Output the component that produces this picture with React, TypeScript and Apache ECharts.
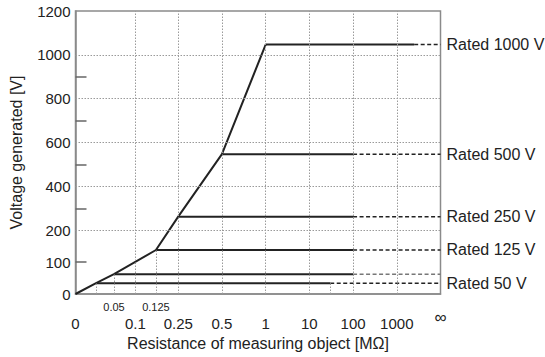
import React, { useEffect, useRef } from 'react';
import * as echarts from 'echarts';

// ---- Y axis (voltage generated, V) ----
const yTickValues = [0, 100, 200, 400, 600, 800, 1000, 1200];
const yGridValues = [200, 400, 600, 800, 1000];
const yMinorTickValues = [100, 300, 500, 700, 900];

// ---- X axis (resistance, MΩ), schematic scale stops ----
const xStopValues = [0, 0.025, 0.05, 0.1, 0.125, 0.25, 0.5, 1, 10, 100, 1000, Infinity];
const xStopSteps = [0, 0.47, 0.88, 1.37, 1.84, 2.35, 3.35, 4.35, 5.35, 6.35, 7.35, 8.35];
const xMainTickValues = [0, 0.1, 0.25, 0.5, 1, 10, 100, 1000];
const xMainTickLabels = ['0', '0.1', '0.25', '0.5', '1', '10', '100', '1000'];
const xSubTickValues = [0.05, 0.125];
const xSubTickLabels = ['0.05', '0.125'];
const xInfLabel = '∞';
const xFullGridValues = [0.1, 0.25, 0.5, 1, 10, 100, 1000];

// ---- Rated lines ----
const ratedLabels = ['Rated 1000 V', 'Rated 500 V', 'Rated 250 V', 'Rated 125 V', '', 'Rated 50 V'];
const generatedV = [1047, 547, 262, 138, 62, 34];
const startR = [1, 0.5, 0.25, 0.125, 0.05, 0.025];
const solidEndR = [2500, 100, 100, 100, 100, 30];

// ---- Rising characteristic ----
const curveR = [0, 0.025, 0.05, 0.125, 0.25, 0.5, 1];
const curveV = [0, 34, 62, 138, 262, 547, 1047];

// ---- Partial drop lines ----
const dropR = [0.025, 0.05, 0.125, 30];
const dropV = [34, 62, 138, 34];

function yPos(v: number): number {
  return v <= 200 ? v * 0.32 : 64 + (v - 200) * 0.22;
}

function xPos(r: number): number {
  const n = xStopValues.length;
  if (r >= xStopValues[n - 1]) return xStopSteps[n - 1];
  for (let i = 0; i < n - 1; i++) {
    const a = xStopValues[i];
    const b = xStopValues[i + 1];
    if (r >= a && r <= b) {
      const sa = xStopSteps[i];
      const sb = xStopSteps[i + 1];
      if (a === 0) return sa + ((r - a) / (b - a)) * (sb - sa);
      const bb = b === Infinity ? 10000 : b;
      return sa + (Math.log10(r / a) / Math.log10(bb / a)) * (sb - sa);
    }
  }
  return 0;
}

function nearestLabel(value: number, positions: number[], labels: string[]): string {
  let best = 0;
  let bestD = Infinity;
  positions.forEach((p, i) => {
    const d = Math.abs(p - value);
    if (d < bestD) {
      bestD = d;
      best = i;
    }
  });
  return bestD < 0.05 ? labels[best] : '';
}

const FONT = 'Liberation Sans, Arial, Helvetica, sans-serif';
const TEXT = '#222';
const AXIS = '#8a8a8a';
const GRID = '#9a9a9a';
const LINE = '#222';

export default function App() {
  const ref = useRef<HTMLDivElement>(null);

  useEffect(() => {
    if (!ref.current) return;
    const chart = echarts.init(ref.current, undefined, { renderer: 'svg' });

    const yLabelPos = yTickValues.map(yPos);
    const yLabelText = yTickValues.map(String);
    const xMainPos = xMainTickValues.map(xPos);
    const xSubPos = xSubTickValues.map(xPos);
    const xMax = xPos(Infinity);
    const yMax = yPos(1200);

    const gridMarkData: any[] = [];
    yGridValues.forEach((v) => gridMarkData.push({ yAxis: yPos(v) }));
    xFullGridValues.forEach((r) => gridMarkData.push({ xAxis: xPos(r) }));
    dropR.forEach((r, i) =>
      gridMarkData.push([{ coord: [xPos(r), 0] }, { coord: [xPos(r), yPos(dropV[i])] }])
    );

    const series: any[] = [
      {
        type: 'line',
        name: 'grid',
        data: [[0, 0]],
        showSymbol: false,
        lineStyle: { opacity: 0 },
        silent: true,
        markLine: {
          silent: true,
          symbol: ['none', 'none'],
          label: { show: false },
          lineStyle: { type: [1.5, 1.5], color: GRID, width: 1 },
          data: gridMarkData,
        },
      },
    ];

    ratedLabels.forEach((label, i) => {
      series.push({
        type: 'line',
        name: 'solid' + i,
        data: [
          [xPos(startR[i]), yPos(generatedV[i])],
          [xPos(solidEndR[i]), yPos(generatedV[i])],
        ],
        showSymbol: false,
        lineStyle: { color: LINE, width: 2 },
        z: 3,
      });
      series.push({
        type: 'line',
        name: 'dashed' + i,
        data: [
          [xPos(solidEndR[i]), yPos(generatedV[i])],
          [xPos(Infinity), yPos(generatedV[i])],
        ],
        showSymbol: false,
        lineStyle: { color: label ? LINE : '#777', width: 1.5, type: [4, 2.5] },
        z: 3,
        endLabel: label
          ? {
              show: true,
              formatter: label,
              fontSize: 16,
              color: TEXT,
              fontFamily: FONT,
              distance: 6,
            }
          : { show: false },
      });
    });

    series.push({
      type: 'line',
      name: 'curve',
      data: curveR.map((r, i) => [xPos(r), yPos(curveV[i])]),
      showSymbol: false,
      lineStyle: { color: LINE, width: 2 },
      z: 4,
    });

    chart.setOption({
      animation: false,
      grid: {
        left: 75.5,
        top: 11,
        right: 104.5,
        bottom: 63,
        show: true,
        borderColor: AXIS,
        borderWidth: 1.5,
        outerBoundsMode: 'none',
      },
      xAxis: [
        {
          type: 'value',
          min: 0,
          max: xMax,
          axisLine: { show: true, lineStyle: { color: AXIS, width: 1.5 } },
          axisTick: { show: false },
          splitLine: { show: false },
          axisLabel: {
            customValues: xMainPos,
            formatter: (v: number) => nearestLabel(v, xMainPos, xMainTickLabels),
            fontSize: 15,
            color: TEXT,
            fontFamily: FONT,
            margin: 22,
          },
          name: 'Resistance of measuring object [MΩ]',
          nameLocation: 'middle',
          nameGap: 38,
          nameTextStyle: { fontSize: 16, color: TEXT, fontFamily: FONT },
        },
        {
          type: 'value',
          min: 0,
          max: xMax,
          position: 'bottom',
          axisLine: { show: false },
          axisTick: { show: false },
          splitLine: { show: false },
          axisLabel: {
            customValues: xSubPos,
            formatter: (v: number) => nearestLabel(v, xSubPos, xSubTickLabels),
            fontSize: 11,
            color: TEXT,
            fontFamily: FONT,
            margin: 7,
          },
        },
        {
          type: 'value',
          min: 0,
          max: xMax,
          position: 'bottom',
          axisLine: { show: false },
          axisTick: { show: false },
          splitLine: { show: false },
          axisLabel: {
            customValues: [xMax],
            formatter: () => xInfLabel,
            fontSize: 17,
            color: TEXT,
            fontFamily: FONT,
            margin: 15,
          },
        },
      ],
      yAxis: {
        type: 'value',
        min: 0,
        max: yMax,
        axisLine: { show: true, lineStyle: { color: AXIS, width: 1.5 } },
        axisTick: {
          show: true,
          inside: true,
          length: 11,
          customValues: yMinorTickValues.map(yPos),
          lineStyle: { color: '#666', width: 1.5 },
        },
        splitLine: { show: false },
        axisLabel: {
          customValues: yLabelPos,
          formatter: (v: number) => nearestLabel(v, yLabelPos, yLabelText),
          fontSize: 15,
          color: TEXT,
          fontFamily: FONT,
          margin: 5,
        },
        name: 'Voltage generated [V]',
        nameLocation: 'middle',
        nameGap: 51,
        nameTextStyle: { fontSize: 16, color: TEXT, fontFamily: FONT },
      },
      series,
    });

    return () => chart.dispose();
  }, []);

  return (
    <div
      ref={ref}
      style={{ position: 'fixed', left: 0, top: 0, width: 545, height: 357, background: '#fff' }}
    />
  );
}
